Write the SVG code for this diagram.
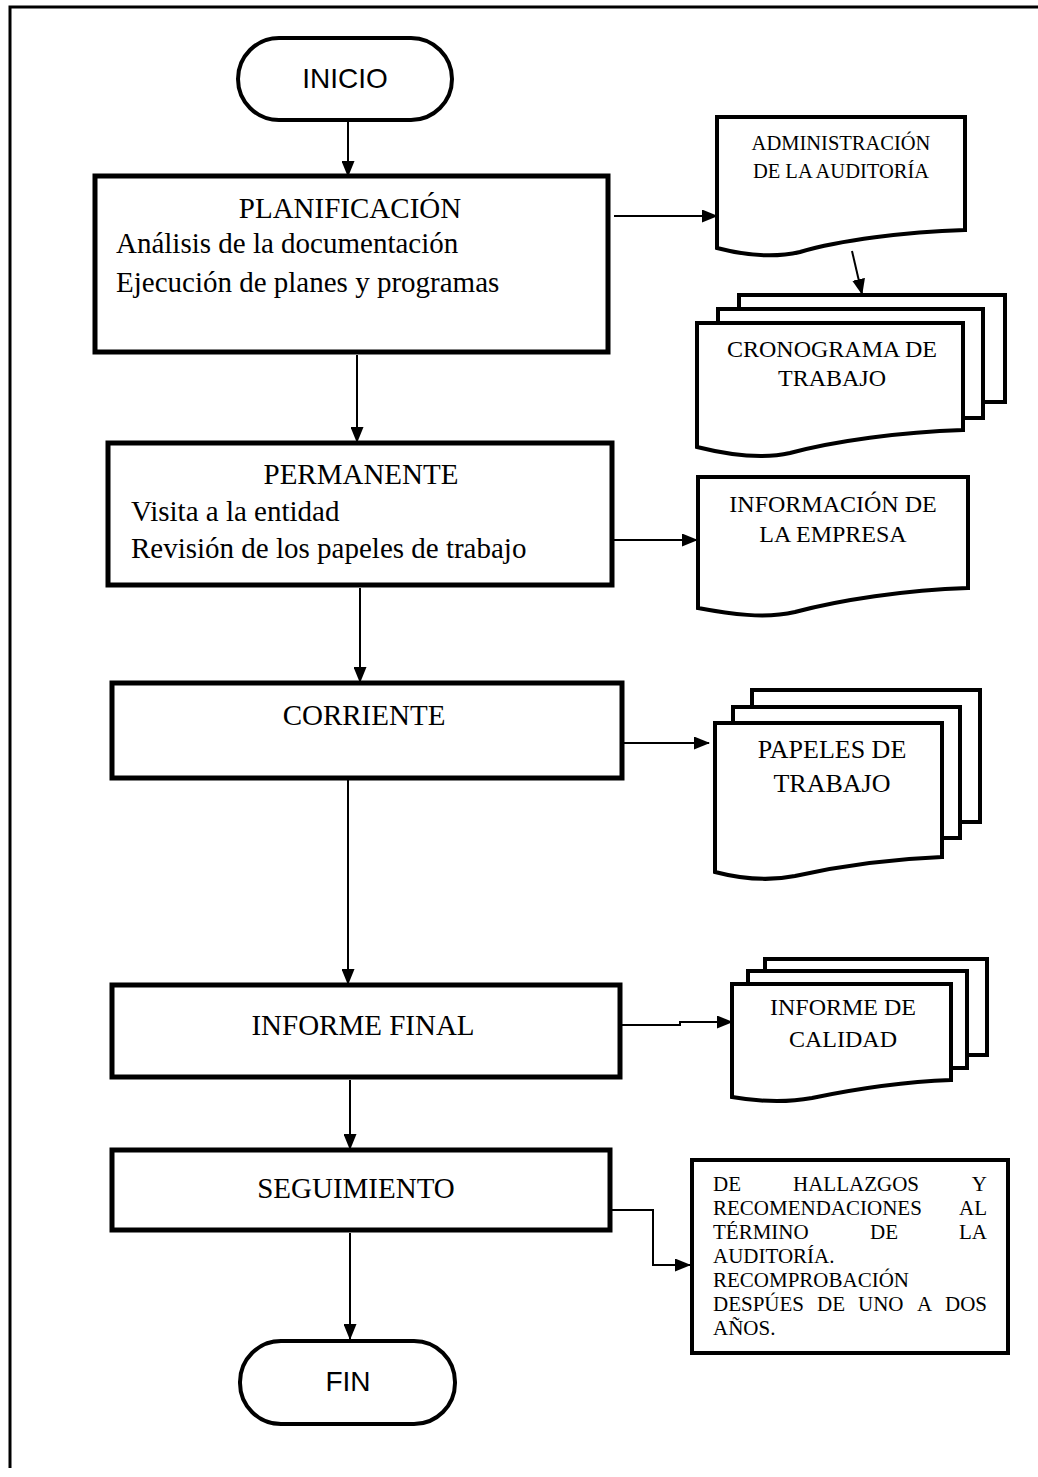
<svg xmlns="http://www.w3.org/2000/svg" width="1038" height="1477" viewBox="0 0 1038 1477">
<defs>
<style>
.frame{fill:none;stroke:#000;stroke-width:3}
.term{fill:#fff;stroke:#000;stroke-width:4}
.proc{fill:#fff;stroke:#000;stroke-width:5}
.doc{fill:#fff;stroke:#000;stroke-width:4;stroke-linejoin:miter}
.conn{fill:none;stroke:#000;stroke-width:2}
.sans{font-family:"Liberation Sans",Arial,sans-serif;font-size:28px;fill:#000}
.big{font-family:"Liberation Serif","Times New Roman",serif;font-size:29px;fill:#000}
.mid{font-family:"Liberation Serif","Times New Roman",serif;font-size:24px;fill:#000}
.sm{font-family:"Liberation Serif","Times New Roman",serif;font-size:20.5px;fill:#000}
.hz{font-family:"Liberation Serif","Times New Roman",serif;font-size:21px;fill:#000}
</style>
<marker id="ah" markerWidth="16" markerHeight="13" refX="15" refY="6.5" orient="auto" markerUnits="userSpaceOnUse">
<path d="M0,0 L16,6.5 L0,13 Z" fill="#000"/>
</marker>
</defs>
<rect width="1038" height="1477" fill="#fff"/>
<path class="frame" d="M10,1468 V7 H1038"/>

<g id="connectors">
<line class="conn" x1="348" y1="122" x2="348" y2="176" marker-end="url(#ah)"/>
<line class="conn" x1="614" y1="216" x2="717" y2="216" marker-end="url(#ah)"/>
<line class="conn" x1="852" y1="251" x2="862" y2="294" marker-end="url(#ah)"/>
<line class="conn" x1="357" y1="355" x2="357" y2="442" marker-end="url(#ah)"/>
<line class="conn" x1="614" y1="540" x2="697" y2="540" marker-end="url(#ah)"/>
<line class="conn" x1="360" y1="588" x2="360" y2="682" marker-end="url(#ah)"/>
<line class="conn" x1="624" y1="743" x2="709" y2="743" marker-end="url(#ah)"/>
<line class="conn" x1="348" y1="780" x2="348" y2="984" marker-end="url(#ah)"/>
<polyline class="conn" points="622,1025 680,1025 680,1022 732,1022" marker-end="url(#ah)"/>
<line class="conn" x1="350" y1="1080" x2="350" y2="1149" marker-end="url(#ah)"/>
<polyline class="conn" points="612,1210 653,1210 653,1265 690,1265" marker-end="url(#ah)"/>
<line class="conn" x1="350" y1="1233" x2="350" y2="1339" marker-end="url(#ah)"/>
</g>

<g id="inicio">
<rect class="term" x="238" y="38" width="214" height="82" rx="41"/>
<text class="sans" x="345" y="88" text-anchor="middle">INICIO</text>
</g>

<g id="planificacion">
<rect class="proc" x="95" y="176" width="513" height="176"/>
<text class="big" x="350" y="218" text-anchor="middle">PLANIFICACIÓN</text>
<text class="big" x="116" y="253">Análisis de la documentación</text>
<text class="big" x="116" y="292">Ejecución de planes y programas</text>
</g>

<g id="administracion">
<path class="doc" d="M717,117 H965 V230 C905,232 840,240 800,252 C770,259 740,254 717,248 Z"/>
<text class="sm" x="841" y="150" text-anchor="middle">ADMINISTRACIÓN</text>
<text class="sm" x="841" y="178" text-anchor="middle">DE LA AUDITORÍA</text>
</g>

<g id="cronograma">
<rect class="doc" x="739" y="295" width="266" height="107"/>
<rect class="doc" x="718" y="309" width="265" height="109"/>
<path class="doc" d="M697,323 H963 V430 C900,432 835,441 790,453 C760,460 725,454 697,447 Z"/>
<text class="mid" x="832" y="357" text-anchor="middle">CRONOGRAMA DE</text>
<text class="mid" x="832" y="386" text-anchor="middle">TRABAJO</text>
</g>

<g id="permanente">
<rect class="proc" x="108" y="443" width="504" height="142"/>
<text class="big" x="361" y="484" text-anchor="middle">PERMANENTE</text>
<text class="big" x="131" y="521">Visita a la entidad</text>
<text class="big" x="131" y="558">Revisión de los papeles de trabajo</text>
</g>

<g id="informacion">
<path class="doc" d="M698,477 H968 V588 C905,590 840,600 795,612 C765,619 730,614 698,608 Z"/>
<text class="mid" x="833" y="512" text-anchor="middle">INFORMACIÓN DE</text>
<text class="mid" x="833" y="542" text-anchor="middle">LA EMPRESA</text>
</g>

<g id="corriente">
<rect class="proc" x="112" y="683" width="510" height="95"/>
<text class="big" x="364" y="725" text-anchor="middle">CORRIENTE</text>
</g>

<g id="papeles">
<rect class="doc" x="752" y="690" width="228" height="132"/>
<rect class="doc" x="733" y="707" width="227" height="131"/>
<path class="doc" d="M715,723 H942 V857 C890,859 835,867 795,876 C765,882 738,878 715,872 Z"/>
<text class="mid" x="832" y="758" text-anchor="middle" style="font-size:26px">PAPELES DE</text>
<text class="mid" x="832" y="792" text-anchor="middle" style="font-size:26px">TRABAJO</text>
</g>

<g id="informe-final">
<rect class="proc" x="112" y="985" width="508" height="92"/>
<text class="big" x="363" y="1035" text-anchor="middle">INFORME FINAL</text>
</g>

<g id="calidad">
<rect class="doc" x="765" y="959" width="222" height="96"/>
<rect class="doc" x="748" y="971" width="219" height="97"/>
<path class="doc" d="M732,984 H951 V1080 C900,1082 850,1090 812,1098 C785,1103 755,1101 732,1097 Z"/>
<text class="mid" x="843" y="1015" text-anchor="middle">INFORME DE</text>
<text class="mid" x="843" y="1047" text-anchor="middle">CALIDAD</text>
</g>

<g id="seguimiento">
<rect class="proc" x="112" y="1150" width="498" height="80"/>
<text class="big" x="356" y="1198" text-anchor="middle">SEGUIMIENTO</text>
</g>

<g id="hallazgos">
<rect x="692" y="1160" width="316" height="193" fill="#fff" stroke="#000" stroke-width="4"/>
<text class="hz" x="713" y="1191">DE</text>
<text class="hz" x="793" y="1191">HALLAZGOS</text>
<text class="hz" x="987" y="1191" text-anchor="end">Y</text>
<text class="hz" x="713" y="1215">RECOMENDACIONES</text>
<text class="hz" x="987" y="1215" text-anchor="end">AL</text>
<text class="hz" x="713" y="1239">TÉRMINO</text>
<text class="hz" x="870" y="1239">DE</text>
<text class="hz" x="987" y="1239" text-anchor="end">LA</text>
<text class="hz" x="713" y="1263">AUDITORÍA.</text>
<text class="hz" x="713" y="1287">RECOMPROBACIÓN</text>
<text class="hz" x="713" y="1311">DESPÚES</text>
<text class="hz" x="817" y="1311">DE</text>
<text class="hz" x="858" y="1311">UNO</text>
<text class="hz" x="917" y="1311">A</text>
<text class="hz" x="987" y="1311" text-anchor="end">DOS</text>
<text class="hz" x="713" y="1335">AÑOS.</text>
</g>

<g id="fin">
<rect class="term" x="240" y="1341" width="215" height="83" rx="41"/>
<text class="sans" x="348" y="1391" text-anchor="middle">FIN</text>
</g>
</svg>
